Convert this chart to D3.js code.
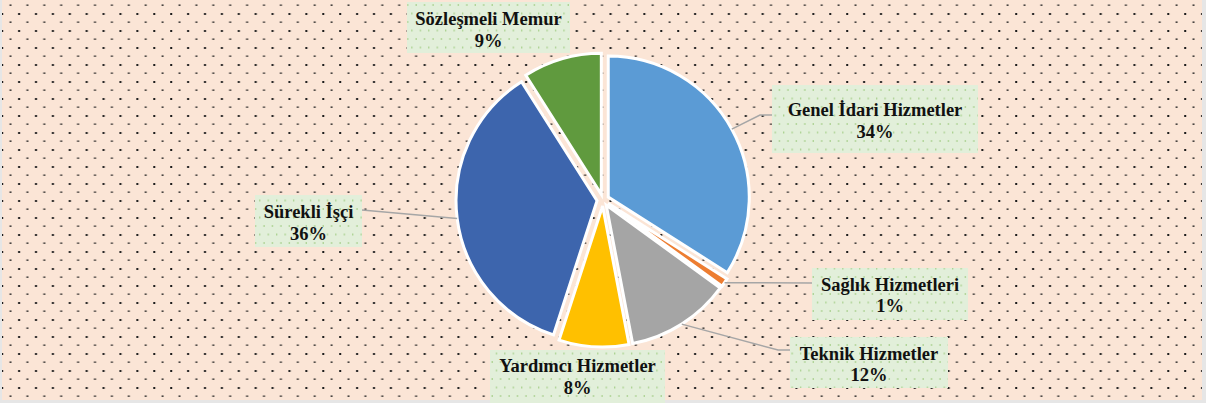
<!DOCTYPE html>
<html>
<head>
<meta charset="utf-8">
<script src="https://d3js.org/d3.v7.min.js"></script>
<style>
  body { margin: 0; background: #e6e6e6; }
  svg { display: block; }
  .lbl text { font-family: "Liberation Serif", "Times New Roman", Times, serif; font-weight: bold; font-size: 18.5px; }
</style>
</head>
<body>
<svg id="vis"></svg>
<script>
    // chart data
    let categories = ["Genel İdari Hizmetler", "Sağlık Hizmetleri", "Teknik Hizmetler",
        "Yardımcı Hizmetler", "Sürekli İşçi", "Sözleşmeli Memur"];
    let values = [34, 1, 12, 8, 36, 9];
    let colors = ["#5b9bd5", "#ed7d31", "#a5a5a5", "#ffc000", "#3d65ad", "#609a3e"];

    let width = 1206, height = 403;
    let cx = 603, cy = 200, radius = 141, explode = 6;

    // label box layout and leader line bend/end points (null = no leader)
    let boxes = [
        { x: 772, y: 85, w: 206, h: 68, top: 31, bend: [760, 115], end: [772, 115] },
        { x: 812, y: 268, w: 156, h: 52, top: 22.5, bend: null, end: [812, 283] },
        { x: 790, y: 337, w: 158, h: 51, top: 22.5, bend: [778, 350], end: [790, 350] },
        { x: 490, y: 350, w: 175, h: 55, top: 22, bend: null, end: null },
        { x: 255, y: 195, w: 107, h: 52, top: 23, bend: null, end: [362, 210] },
        { x: 407, y: 2, w: 163, h: 51, top: 23, bend: null, end: null }
    ];

    let svg = d3.select("#vis").attr("width", width).attr("height", height);

    let defs = svg.append("defs");
    let bgPat = defs.append("pattern")
        .attr("id", "dots")
        .attr("patternUnits", "userSpaceOnUse")
        .attr("width", 16.9).attr("height", 17);
    bgPat.append("rect").attr("width", 16.9).attr("height", 17).attr("fill", "#fbe5d6");
    bgPat.append("rect").attr("x", 9.5).attr("y", 4.5).attr("width", 2).attr("height", 1.3).attr("fill", "#1a1a1a");
    bgPat.append("rect").attr("x", 1.2).attr("y", 13).attr("width", 2).attr("height", 2).attr("fill", "#1a1a1a");

    let lblPat = defs.append("pattern")
        .attr("id", "gdots")
        .attr("patternUnits", "userSpaceOnUse")
        .attr("width", 8.45).attr("height", 17);
    lblPat.append("rect").attr("width", 8.45).attr("height", 17).attr("fill", "#e2efda");
    lblPat.append("rect").attr("x", 1.5).attr("y", 4).attr("width", 1.2).attr("height", 2).attr("fill", "#a9d18e");
    lblPat.append("rect").attr("x", 5.7).attr("y", 12.5).attr("width", 1.2).attr("height", 2).attr("fill", "#a9d18e");

    // chart area
    svg.append("rect")
        .attr("x", 2).attr("y", 0)
        .attr("width", 1200).attr("height", 400)
        .attr("fill", "url(#dots)");

    let pie = d3.pie().sort(null).value(d => d);
    let arcs = pie(values);
    let arc = d3.arc().innerRadius(0).outerRadius(radius);

    let mid = d => (d.startAngle + d.endAngle) / 2;
    let offset = (d, r) => [Math.sin(mid(d)) * r, -Math.cos(mid(d)) * r];

    let g = svg.append("g").attr("transform", `translate(${cx},${cy})`);
    g.selectAll(".slice")
        .data(arcs)
        .join("path")
        .attr("class", "slice")
        .attr("d", arc)
        .attr("transform", d => `translate(${offset(d, explode)})`)
        .attr("fill", (d, i) => colors[i])
        .attr("stroke", "#fff")
        .attr("stroke-width", 3)
        .attr("stroke-linejoin", "miter");

    // leader lines
    arcs.forEach((d, i) => {
        let b = boxes[i];
        if (!b.end) return;
        let o = offset(d, explode);
        let p = offset(d, radius);
        let pts = [[cx + o[0] + p[0], cy + o[1] + p[1]]];
        if (b.bend) pts.push(b.bend);
        pts.push(b.end);
        svg.append("path")
            .attr("d", d3.line()(pts))
            .attr("fill", "none")
            .attr("stroke", "#a6a6a6")
            .attr("stroke-width", 1.5);
    });

    // labels
    let fmt = d3.format(".0%");
    let total = d3.sum(values);
    let lbl = svg.selectAll(".lbl")
        .data(arcs)
        .join("g")
        .attr("class", "lbl");
    lbl.append("rect")
        .attr("x", (d, i) => boxes[i].x)
        .attr("y", (d, i) => boxes[i].y)
        .attr("width", (d, i) => boxes[i].w)
        .attr("height", (d, i) => boxes[i].h)
        .attr("fill", "url(#gdots)");
    let txt = lbl.append("text")
        .attr("text-anchor", "middle")
        .attr("fill", "#111");
    txt.append("tspan")
        .attr("x", (d, i) => boxes[i].x + boxes[i].w / 2)
        .attr("y", (d, i) => boxes[i].y + boxes[i].top)
        .text((d, i) => categories[i]);
    txt.append("tspan")
        .attr("x", (d, i) => boxes[i].x + boxes[i].w / 2)
        .attr("y", (d, i) => boxes[i].y + boxes[i].top + 21.5)
        .text(d => fmt(d.value / total));
</script>
</body>
</html>
